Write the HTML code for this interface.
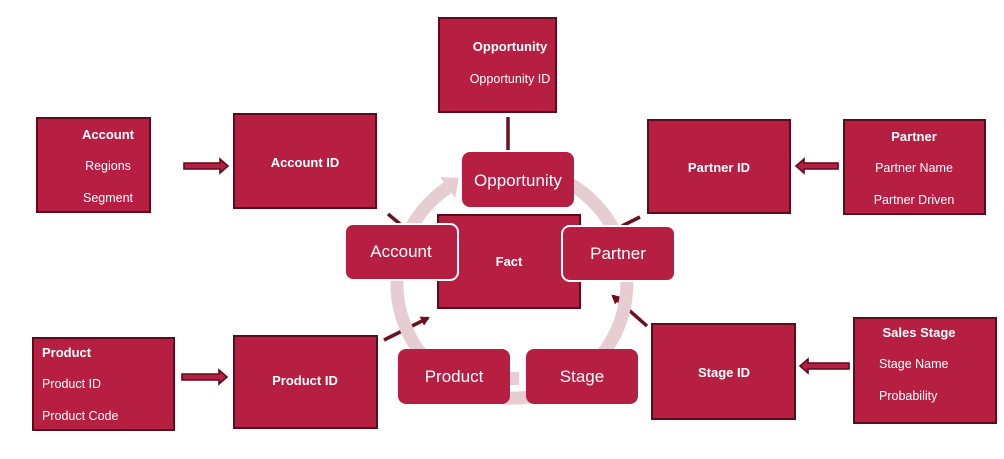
<!DOCTYPE html>
<html><head><meta charset="utf-8"><style>
html,body{margin:0;padding:0;background:#fff;}
svg{display:block;}
text{font-family:"Liberation Sans",sans-serif;fill:#fff;}
.b{font-weight:bold;font-size:13px;}
.n{font-size:12.5px;}
.r{font-size:17px;}
</style></head><body>
<svg width="1004" height="459" viewBox="0 0 1004 459" xmlns="http://www.w3.org/2000/svg">
<defs>
<marker id="ah" markerWidth="10" markerHeight="10" refX="7" refY="5" orient="auto" markerUnits="userSpaceOnUse">
<path d="M0,0 L9,5 L0,10 z" fill="#6b0f22"/>
</marker>
</defs>
<g stroke="#5a0c1c" stroke-width="2" fill="#b71f42">
<rect x="439" y="18" width="117" height="94"/>
<rect x="37" y="118" width="113" height="94"/>
<rect x="234" y="114" width="142" height="94"/>
<rect x="648" y="120" width="142" height="93"/>
<rect x="844" y="120" width="141" height="94"/>
<rect x="33" y="338" width="141" height="92"/>
<rect x="234" y="336" width="143" height="92"/>
<rect x="652" y="324" width="143" height="95"/>
<rect x="854" y="318" width="142" height="105"/>
</g>
<g fill="#b71f42" stroke="#5a0c1c" stroke-width="1.6">
<path d="M184,163 L220,163 L220,159 L228,166 L220,173 L220,169 L184,169 z"/>
<path d="M182,374 L219,374 L219,370 L227,377 L219,384 L219,380 L182,380 z"/>
<path d="M838,163 L804,163 L804,159 L796,166 L804,173 L804,169 L838,169 z"/>
<path d="M849,363 L808,363 L808,359 L800,366 L808,373 L808,369 L849,369 z"/>
</g>
<g stroke="#6b0f22" stroke-width="3.5" fill="none">
<line x1="508" y1="117" x2="508" y2="150"/>
<line x1="388" y1="214" x2="400" y2="224"/>
<line x1="622" y1="226" x2="640" y2="217"/>
<line x1="384" y1="340" x2="428" y2="318" marker-end="url(#ah)"/>
<line x1="647" y1="326" x2="613" y2="296" marker-end="url(#ah)"/>
</g>
<path d="M447.7,187.7 A115,115 0 1 0 551,175" fill="none" stroke="#e6cdd1" stroke-width="13"/>
<path d="M459,178 L440,177 L455,198 z" fill="#e6cdd1"/>
<rect x="506" y="372" width="13" height="13" fill="#e6cdd1"/>
<rect x="438" y="215" width="142" height="93" fill="#b71f42" stroke="#5a0c1c" stroke-width="2"/>
<g fill="#b71f42">
<rect x="462" y="152" width="112" height="55" rx="8"/>
<rect x="345" y="224" width="113" height="56" rx="8" stroke="#fff" stroke-width="2"/>
<rect x="562" y="226" width="113" height="55" rx="8" stroke="#fff" stroke-width="2"/>
<rect x="398" y="349" width="112" height="55" rx="8"/>
<rect x="526" y="349" width="112" height="55" rx="8"/>
</g>
<g text-anchor="middle">
<text class="r" x="518" y="186">Opportunity</text>
<text class="r" x="401" y="257">Account</text>
<text class="r" x="618" y="259">Partner</text>
<text class="r" x="454" y="382">Product</text>
<text class="r" x="582" y="382">Stage</text>
<text class="b" x="509" y="266">Fact</text>
<text class="b" x="510" y="51">Opportunity</text>
<text class="n" x="510" y="83">Opportunity ID</text>
<text class="b" x="108" y="139">Account</text>
<text class="n" x="108" y="170">Regions</text>
<text class="n" x="108" y="202">Segment</text>
<text class="b" x="305" y="167">Account ID</text>
<text class="b" x="719" y="172">Partner ID</text>
<text class="b" x="914" y="141">Partner</text>
<text class="n" x="914" y="172">Partner Name</text>
<text class="n" x="914" y="204">Partner Driven</text>
<text class="b" x="305" y="385">Product ID</text>
<text class="b" x="724" y="377">Stage ID</text>
<text class="b" x="919" y="337">Sales Stage</text>
</g>
<text class="b" x="42" y="357">Product</text>
<text class="n" x="42" y="388">Product ID</text>
<text class="n" x="42" y="420">Product Code</text>
<text class="n" x="879" y="368">Stage Name</text>
<text class="n" x="879" y="400">Probability</text>
</svg>
</body></html>
